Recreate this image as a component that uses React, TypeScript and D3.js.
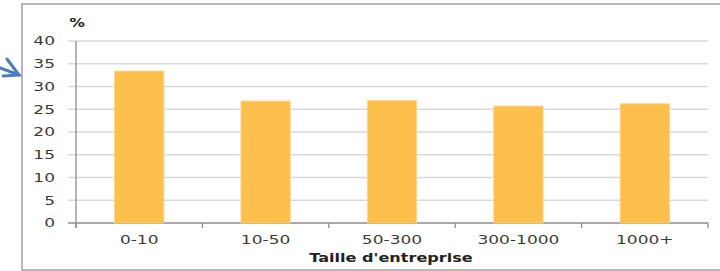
import React from "react";
import * as d3 from "d3";

const categories = ["0-10", "10-50", "50-300", "300-1000", "1000+"];
const values = [33.4, 26.8, 26.9, 25.7, 26.2];
const yTicks = [0, 5, 10, 15, 20, 25, 30, 35, 40];
const yUnit = "%";
const xTitle = "Taille d'entreprise";

export default function App() {
  const W = 720, H = 271;
  const left = 76, right = 708, top = 41, bottom = 223;
  const x = d3.scaleBand<string>().domain(categories).range([left, right]).paddingInner(0.61).paddingOuter(0.305);
  const xb = d3.scaleBand<string>().domain(categories).range([left, right]);
  const y = d3.scaleLinear().domain([0, 40]).range([bottom, top]);
  const font = "'DejaVu Sans', Verdana, sans-serif";
  const sx = 1.42;
  const tickColor = "#3a3a3a";
  const boundaries = [left, ...categories.map((c) => (xb(c) as number) + xb.bandwidth())];

  return (
    <svg width={W} height={H} style={{ position: "absolute", left: 0, top: 0, background: "#fff" }}>
      <rect x={22} y={4} width={800} height={266} fill="#fff" stroke="#a6a6a6" strokeWidth={1.6} />
      {/* arrow */}
      <g stroke="#4a7ebb" strokeWidth={3} fill="none" strokeLinecap="round">
        <line x1={-10} y1={64} x2={19} y2={75} />
        <polyline points="7,59 19,75 3,76" />
      </g>
      {/* gridlines */}
      {yTicks.map((t) => (
        <line key={"g" + t} x1={68} x2={right} y1={y(t)} y2={y(t)} stroke={t === 0 ? "#8c8c8c" : "#d9d9d9"} strokeWidth={1.5} />
      ))}
      {/* bars */}
      {categories.map((c, i) => (
        <rect key={c} x={x(c)} y={y(values[i])} width={x.bandwidth()} height={bottom - y(values[i])} fill="#fec04c" stroke="#fed38a" strokeWidth={0.8} />
      ))}
      {/* y axis */}
      <line x1={left} x2={left} y1={top} y2={bottom + 5} stroke="#8c8c8c" strokeWidth={1.3} />
      {boundaries.map((b, i) => (
        <line key={"t" + i} x1={b} x2={b} y1={bottom} y2={bottom + 5} stroke="#8c8c8c" strokeWidth={1.3} />
      ))}
      {/* y tick labels */}
      {yTicks.map((t) => (
        <text key={"yl" + t} transform={`translate(55,${y(t) + 4.3}) scale(${sx},1)`} textAnchor="end" fontFamily={font} fontSize={12} fill={tickColor}>
          {t}
        </text>
      ))}
      <text transform={`translate(77,27) scale(1.3,1)`} textAnchor="middle" fontFamily={font} fontSize={12} fontWeight="bold" fill="#222">
        {yUnit}
      </text>
      {/* x labels */}
      {categories.map((c) => (
        <text key={"xl" + c} transform={`translate(${(xb(c) as number) + xb.bandwidth() / 2},244) scale(${sx},1)`} textAnchor="middle" fontFamily={font} fontSize={12} fill={tickColor}>
          {c}
        </text>
      ))}
      <text transform={`translate(391,262) scale(1.34,1)`} textAnchor="middle" fontFamily={font} fontSize={12} fontWeight="bold" fill="#222">
        {xTitle}
      </text>
    </svg>
  );
}
